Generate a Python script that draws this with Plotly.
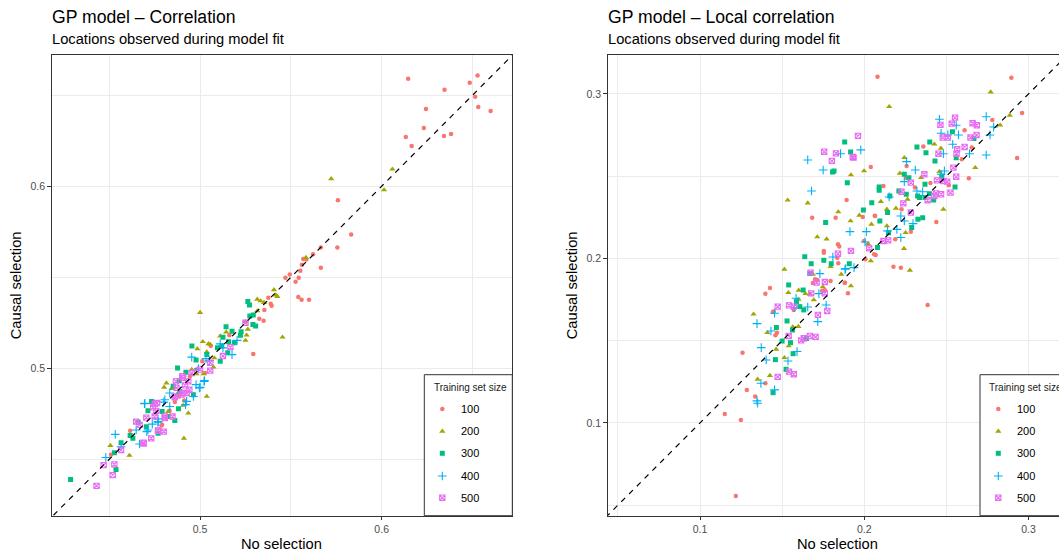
import plotly.graph_objects as go

W, H = 1059, 555

# Training set sizes and their ggplot-style hue colours / shapes
sizes = ["100", "200", "300", "400", "500"]
colors = ["#F8766D", "#A3A500", "#00BF7D", "#00B0F6", "#E76BF3"]
symbols = ["circle", "triangle-up", "square", "cross-thin-open", "square-x-open"]
msizes = [4.5, 5.5, 5, 6.2, 5.3]

# Correlation: (no selection, causal selection)
corr_100 = [
    (0.6146, 0.6591), (0.6485, 0.6569), (0.6528, 0.6608), (0.6346, 0.6530), (0.6515, 0.6492),
    (0.6532, 0.6436), (0.6600, 0.6414), (0.6244, 0.6425), (0.6232, 0.6320), (0.6343, 0.6276),
    (0.6382, 0.6287), (0.6133, 0.6271), (0.6165, 0.6221), (0.5759, 0.5923), (0.5832, 0.5735),
    (0.5756, 0.5663), (0.5665, 0.5663), (0.5665, 0.5552), (0.5622, 0.5626), (0.5585, 0.5597),
    (0.5568, 0.5600), (0.5561, 0.5569), (0.5552, 0.5536), (0.5543, 0.5497), (0.5526, 0.5475),
    (0.5494, 0.5515), (0.5470, 0.5497), (0.5541, 0.5392), (0.5559, 0.5377), (0.5600, 0.5377),
    (0.5376, 0.5387), (0.5389, 0.5354), (0.5394, 0.5343), (0.5354, 0.5320), (0.5326, 0.5272),
    (0.5350, 0.5261), (0.5161, 0.5182), (0.5293, 0.5079), (0.5059, 0.5122), (0.5013, 0.5039),
    (0.4861, 0.4814), (0.4913, 0.4823), (0.4832, 0.4766), (0.4791, 0.4689), (0.4615, 0.4657),
    (0.4509, 0.4525), (0.5028, 0.4974), (0.4885, 0.4845), (0.4944, 0.4956), (0.4981, 0.4993),
    (0.4787, 0.4685),
]
corr_200 = [
    (0.6059, 0.6094), (0.5722, 0.6041), (0.6013, 0.5980), (0.5583, 0.5608), (0.5407, 0.5431),
    (0.5417, 0.5402), (0.5426, 0.5394), (0.5315, 0.5379), (0.5333, 0.5370), (0.5352, 0.5361),
    (0.5315, 0.5315), (0.5454, 0.5171), (0.5250, 0.5256), (0.5263, 0.5214), (0.5250, 0.5153),
    (0.5144, 0.5199), (0.5000, 0.5306), (0.5111, 0.5177), (0.5015, 0.5146), (0.4985, 0.5107),
    (0.5056, 0.5131), (0.5046, 0.5134), (0.5037, 0.5090), (0.5078, 0.5057), (0.5074, 0.5006),
    (0.5019, 0.4969), (0.4954, 0.4993), (0.4954, 0.4965), (0.5037, 0.4845), (0.4815, 0.4919),
    (0.4802, 0.4895), (0.4874, 0.4858), (0.4824, 0.4762), (0.4907, 0.4796), (0.4843, 0.4888),
    (0.4506, 0.4575), (0.4611, 0.4521), (0.4911, 0.4615), (0.4935, 0.4753), (0.4981, 0.4969),
    (0.5256, 0.5182),
]
corr_300 = [
    (0.5263, 0.5367), (0.5272, 0.5348), (0.5274, 0.5287), (0.5293, 0.5293), (0.5143, 0.5228),
    (0.5176, 0.5204), (0.5226, 0.5201), (0.5291, 0.5241), (0.5306, 0.5232), (0.5222, 0.5182),
    (0.5189, 0.5140), (0.5126, 0.5171), (0.4955, 0.5122), (0.5157, 0.5146), (0.5120, 0.5122),
    (0.5096, 0.5112), (0.5152, 0.5085), (0.5111, 0.5039), (0.5037, 0.5076), (0.4978, 0.5046),
    (0.4876, 0.5002), (0.4922, 0.4978), (0.4885, 0.4932), (0.4852, 0.4901), (0.4963, 0.4855),
    (0.4889, 0.4873), (0.4733, 0.4818), (0.4713, 0.4766), (0.4791, 0.4763), (0.4824, 0.4735),
    (0.4861, 0.4713), (0.4704, 0.4678), (0.4769, 0.4643), (0.4659, 0.4703), (0.4615, 0.4630),
    (0.4565, 0.4591), (0.4537, 0.4444), (0.4287, 0.4389), (0.4528, 0.4536), (0.4630, 0.4615),
    (0.4881, 0.4777),
]
corr_400 = [
    (0.4533, 0.4637), (0.4481, 0.4510), (0.4565, 0.4569), (0.4667, 0.4584), (0.4648, 0.4661),
    (0.4713, 0.4661), (0.4694, 0.4805), (0.4768, 0.4703), (0.4806, 0.4827), (0.4833, 0.4864),
    (0.4920, 0.4800), (0.4963, 0.4845), (0.4996, 0.4892), (0.5024, 0.4932), (0.4991, 0.4998),
    (0.4954, 0.5061), (0.5033, 0.5053), (0.5111, 0.5134), (0.5176, 0.5075), (0.5204, 0.5153),
    (0.5126, 0.5112), (0.5052, 0.5042), (0.4833, 0.4790), (0.4737, 0.4693), (0.4768, 0.4722),
    (0.4696, 0.4807), (0.4769, 0.4707), (0.4707, 0.4652), (0.5000, 0.4895), (0.5022, 0.4928),
    (0.4926, 0.4818), (0.4800, 0.4814), (0.4978, 0.4910),
]
corr_500 = [
    (0.4430, 0.4354), (0.4519, 0.4413), (0.4528, 0.4472), (0.4469, 0.4468), (0.4565, 0.4551),
    (0.4648, 0.4707), (0.4689, 0.4591), (0.4731, 0.4615), (0.4768, 0.4658), (0.4800, 0.4652),
    (0.4704, 0.4729), (0.4750, 0.4735), (0.4805, 0.4735), (0.4848, 0.4735), (0.4759, 0.4766),
    (0.4667, 0.4689), (0.4861, 0.4840), (0.4898, 0.4855), (0.4926, 0.4864), (0.4870, 0.4892),
    (0.4907, 0.4947), (0.4954, 0.4974), (0.5000, 0.4993), (0.5056, 0.4987), (0.5126, 0.5067),
    (0.5167, 0.5116), (0.4750, 0.4805), (0.4917, 0.4906), (0.4935, 0.4928), (0.5250, 0.5250),
    (0.4902, 0.4956), (0.4867, 0.4928), (0.4861, 0.4845), (0.4907, 0.4864), (0.4941, 0.4882),
    (0.4763, 0.4809), (0.4741, 0.4785), (0.4806, 0.4726), (0.4769, 0.4656), (0.4689, 0.4587),
    (0.5056, 0.5030),
]

# Local correlation: (no selection, causal selection)
local_100 = [
    (0.1218, 0.0556), (0.1151, 0.1055), (0.1249, 0.1018), (0.1259, 0.1426), (0.1285, 0.1201),
    (0.1336, 0.1160), (0.1398, 0.1241), (0.1398, 0.1786), (0.1426, 0.1821), (0.1444, 0.1675),
    (0.1469, 0.1549), (0.1459, 0.1533), (0.1571, 0.1687), (0.1687, 0.1851), (0.1714, 0.1869),
    (0.1754, 0.2035), (0.1760, 0.1806), (0.1836, 0.2005), (0.1842, 0.1971), (0.1881, 0.1853),
    (0.1901, 0.1788), (0.2060, 0.2025), (0.2178, 0.1950), (0.2223, 0.1944), (0.1744, 0.1802),
    (0.1683, 0.2248), (0.1826, 0.2248), (0.1893, 0.2356), (0.1840, 0.2086), (0.1848, 0.2072),
    (0.1449, 0.1677), (0.1701, 0.1873), (0.1795, 0.1863), (0.1883, 0.1853), (0.2007, 0.1995),
    (0.2040, 0.2556), (0.2117, 0.2441), (0.2064, 0.2260), (0.1991, 0.2252), (0.2386, 0.1717),
    (0.2439, 0.2222), (0.2227, 0.2299), (0.2360, 0.2680), (0.2403, 0.2459), (0.2637, 0.2487),
    (0.2611, 0.2779), (0.2655, 0.2674), (0.2780, 0.2842), (0.2931, 0.2611), (0.2961, 0.2884),
    (0.2309, 0.2431), (0.2254, 0.2491), (0.2189, 0.2117), (0.2081, 0.3105), (0.2896, 0.3099),
    (0.2258, 0.2562), (0.2594, 0.2603), (0.2515, 0.2445), (0.2066, 0.2258), (0.2070, 0.2021),
    (0.2284, 0.2163), (0.1754, 0.2046), (0.1999, 0.2106),
]
local_200 = [
    (0.1514, 0.1934), (0.1538, 0.1792), (0.1599, 0.1752), (0.1693, 0.1748), (0.1642, 0.1786),
    (0.1326, 0.1661), (0.1410, 0.1549), (0.1565, 0.1584), (0.1599, 0.1586), (0.1464, 0.1448),
    (0.1540, 0.1468), (0.1514, 0.1397), (0.1426, 0.1288), (0.1351, 0.1265), (0.1687, 0.1904),
    (0.1795, 0.1950), (0.1860, 0.1904), (0.1919, 0.1833), (0.2040, 0.1985), (0.1748, 0.1827),
    (0.2278, 0.1928), (0.2770, 0.3012), (0.2152, 0.2923), (0.2886, 0.2870), (0.2244, 0.2613),
    (0.1534, 0.2354), (0.1656, 0.2337), (0.1714, 0.2131), (0.1771, 0.2118), (0.1842, 0.2283),
    (0.1917, 0.2228), (0.1970, 0.2262), (0.1999, 0.2532), (0.1919, 0.2508), (0.2217, 0.2518),
    (0.2346, 0.2491), (0.2458, 0.2528), (0.2676, 0.2552), (0.2482, 0.2299), (0.2193, 0.2305),
    (0.2138, 0.2299), (0.2101, 0.2346), (0.2044, 0.2208), (0.2138, 0.2198), (0.2252, 0.2157),
    (0.2242, 0.2060), (0.2023, 0.2090), (0.2264, 0.2360), (0.2427, 0.2695), (0.2467, 0.2670),
    (0.2828, 0.2810), (0.1601, 0.1806), (0.1669, 0.1782),
]
local_300 = [
    (0.1638, 0.2011), (0.1677, 0.1968), (0.1669, 0.1908), (0.1754, 0.1989), (0.1799, 0.1968),
    (0.1909, 0.1968), (0.1540, 0.1839), (0.1628, 0.1808), (0.1608, 0.1707), (0.1587, 0.1738),
    (0.1632, 0.1687), (0.1530, 0.1620), (0.1563, 0.1565), (0.1465, 0.1580), (0.1500, 0.1498),
    (0.1551, 0.1488), (0.1567, 0.1421), (0.1459, 0.1385), (0.1524, 0.1326), (0.1445, 0.1184),
    (0.1648, 0.1513), (0.1881, 0.2708), (0.1917, 0.2647), (0.1816, 0.2532), (0.1807, 0.2526),
    (0.1897, 0.2461), (0.2091, 0.2435), (0.2091, 0.2414), (0.1765, 0.2218), (0.1995, 0.2295),
    (0.2046, 0.2339), (0.2095, 0.2227), (0.2081, 0.2066), (0.2148, 0.2157), (0.2142, 0.2279),
    (0.2244, 0.2512), (0.2272, 0.2491), (0.2256, 0.2390), (0.2211, 0.2410), (0.2325, 0.2380),
    (0.2337, 0.2370), (0.2370, 0.2370), (0.2397, 0.2394), (0.2423, 0.2356), (0.2370, 0.2451),
    (0.2321, 0.2678), (0.2376, 0.2643), (0.2399, 0.2708), (0.2431, 0.2593), (0.2472, 0.2502),
    (0.2553, 0.2435), (0.2356, 0.2248), (0.2327, 0.2238), (0.2289, 0.2188), (0.2537, 0.2771),
    (0.2560, 0.2613), (0.2668, 0.2730), (0.2156, 0.2380),
]
local_400 = [
    (0.1347, 0.1134), (0.1351, 0.1120), (0.1371, 0.1241), (0.1403, 0.1383), (0.1373, 0.1458),
    (0.1432, 0.1559), (0.1347, 0.1604), (0.1454, 0.1667), (0.1454, 0.1201), (0.1536, 0.1377),
    (0.1591, 0.1434), (0.1585, 0.1758), (0.1575, 0.1701), (0.1656, 0.1705), (0.1717, 0.1616),
    (0.1768, 0.1717), (0.1724, 0.1786), (0.1730, 0.1908), (0.1809, 0.2009), (0.1883, 0.1934),
    (0.1938, 0.1944), (0.1656, 0.2599), (0.1750, 0.2538), (0.1679, 0.2410), (0.1856, 0.2637),
    (0.1979, 0.2660), (0.1913, 0.2163), (0.2013, 0.2163), (0.2005, 0.2100), (0.2152, 0.2374),
    (0.2258, 0.2589), (0.2311, 0.2538), (0.2244, 0.2467), (0.2321, 0.2410), (0.2356, 0.2406),
    (0.2223, 0.2258), (0.2244, 0.2228), (0.2297, 0.2212), (0.2199, 0.2177), (0.2223, 0.2127),
    (0.2142, 0.2168), (0.2458, 0.2846), (0.2468, 0.2761), (0.2509, 0.2751), (0.2560, 0.2810),
    (0.2539, 0.2694), (0.2482, 0.2637), (0.2574, 0.2751), (0.2743, 0.2862), (0.2788, 0.2799),
    (0.2766, 0.2751), (0.2743, 0.2629), (0.2641, 0.2637), (0.2488, 0.2532), (0.2468, 0.2512),
    (0.1887, 0.1938),
]
local_500 = [
    (0.1473, 0.1707), (0.1542, 0.1715), (0.1571, 0.1707), (0.1677, 0.1788), (0.1673, 0.1914),
    (0.1710, 0.1853), (0.1760, 0.1857), (0.1760, 0.1788), (0.1840, 0.2029), (0.1718, 0.1657),
    (0.1775, 0.1681), (0.1540, 0.1529), (0.1616, 0.1502), (0.1632, 0.1515), (0.1669, 0.1529),
    (0.1704, 0.1523), (0.1473, 0.1280), (0.1542, 0.1312), (0.1571, 0.1296), (0.1962, 0.2745),
    (0.1756, 0.2649), (0.1828, 0.2639), (0.1803, 0.2593), (0.1930, 0.2617), (0.2464, 0.2812),
    (0.2553, 0.2856), (0.2533, 0.2820), (0.2478, 0.2735), (0.2509, 0.2735), (0.2660, 0.2822),
    (0.2686, 0.2810), (0.2647, 0.2735), (0.2684, 0.2751), (0.2611, 0.2678), (0.2566, 0.2664),
    (0.2452, 0.2637), (0.2562, 0.2637), (0.2543, 0.2552), (0.2560, 0.2497), (0.2366, 0.2512),
    (0.2443, 0.2475), (0.2482, 0.2471), (0.2505, 0.2467), (0.2284, 0.2461), (0.2227, 0.2406),
    (0.2468, 0.2390), (0.2437, 0.2396), (0.2427, 0.2380), (0.2525, 0.2400), (0.2386, 0.2354),
    (0.2238, 0.2335), (0.2284, 0.2279), (0.2117, 0.2106), (0.2146, 0.2110), (0.2030, 0.2062),
    (0.1919, 0.2046), (0.1935, 0.2613),
]

corr_groups = [corr_100, corr_200, corr_300, corr_400, corr_500]
local_groups = [local_100, local_200, local_300, local_400, local_500]

FONT = "Liberation Sans, Arial, Helvetica, sans-serif"
INK = "#333333"
GRID = "#EBEBEB"


def px(x):
    return x / W


def py(y):
    return 1 - y / H


def marker_style(i):
    open_sym = symbols[i].endswith("open")
    return dict(
        symbol=symbols[i], size=msizes[i], color=colors[i],
        line=dict(color=colors[i], width=1.1 if open_sym else 0),
    )


fig = go.Figure()

for xa, ya, groups in (("x", "y", corr_groups), ("x2", "y2", local_groups)):
    for i, pts in enumerate(groups):
        fig.add_trace(go.Scatter(
            x=[p[0] for p in pts], y=[p[1] for p in pts], mode="markers",
            marker=marker_style(i), xaxis=xa, yaxis=ya, showlegend=False,
            name=sizes[i], hoverinfo="x+y+name",
        ))
    # identity reference line
    fig.add_trace(go.Scatter(
        x=[0, 1], y=[0, 1], mode="lines", xaxis=xa, yaxis=ya, showlegend=False,
        line=dict(color="black", width=1.2, dash="5.5px,5.5px"), hoverinfo="skip",
    ))

# legend keys drawn in a pixel-space overlay
key_rows = [409, 431.3, 453.3, 476, 497.7]
for lx in (442.3, 998.3):
    for i in range(5):
        fig.add_trace(go.Scatter(
            x=[lx], y=[key_rows[i]], mode="markers", marker=marker_style(i),
            xaxis="x3", yaxis="y3", showlegend=False, hoverinfo="skip",
        ))

axis_common = dict(
    showline=True, linecolor=INK, linewidth=1.1,
    showgrid=True, gridcolor=GRID, gridwidth=1.1,
    zeroline=False, ticks="outside", ticklen=3.5, tickwidth=1, tickcolor=INK,
    tickfont=dict(family=FONT, size=10.5, color="#4D4D4D"),
    dtick=0.1, tick0=0,
    minor=dict(dtick=0.05, tick0=0, showgrid=True, gridcolor=GRID, gridwidth=0.6, ticks=""),
    fixedrange=True,
)

y_dom = [py(515.7), py(55)]
fig.update_layout(
    width=W, height=H,
    margin=dict(l=0, r=0, t=0, b=0, pad=0),
    paper_bgcolor="white", plot_bgcolor="rgba(0,0,0,0)",
    showlegend=False,
    xaxis=dict(domain=[px(51.7), px(511.7)], range=[0.4183, 0.6716], anchor="y", mirror=True, **axis_common),
    yaxis=dict(domain=y_dom, range=[0.4190, 0.6721], anchor="x", mirror=True, **axis_common),
    xaxis2=dict(domain=[px(607.7), 1.0], range=[0.0438, 0.3186], anchor="y2", mirror=True, **axis_common),
    yaxis2=dict(domain=y_dom, range=[0.0436, 0.3237], anchor="x2", mirror=False, **axis_common),
    xaxis3=dict(domain=[0, 1], range=[0, W], anchor="y3", visible=False, fixedrange=True),
    yaxis3=dict(domain=[0, 1], range=[H, 0], anchor="x3", visible=False, fixedrange=True),
)

shapes = []
annotations = []


def text(x, y, s, size, color="black", xanchor="left", angle=0):
    annotations.append(dict(
        x=px(x), y=py(y), xref="paper", yref="paper", text=s, showarrow=False,
        xanchor=xanchor, yanchor="middle", textangle=angle,
        font=dict(family=FONT, size=size, color=color),
    ))


panels = [
    dict(left=51.7, centre=281.7, ytitle_x=16, title="GP model \u2013 Correlation", legend_x=424.3),
    dict(left=607.7, centre=837.5, ytitle_x=572, title="GP model \u2013 Local correlation", legend_x=980.0),
]
for p in panels:
    text(p["left"] - 2, 16.5, p["title"], 17.6)
    text(p["left"] - 2, 39.5, "Locations observed during model fit", 14.7)
    text(p["centre"], 544, "No selection", 14.7, xanchor="center")
    text(p["ytitle_x"], 285.3, "Causal selection", 14.7, xanchor="center", angle=-90)
    # legend box
    shapes.append(dict(
        type="rect", xref="x3", yref="y3", x0=p["legend_x"], x1=p["legend_x"] + 88,
        y0=374.7, y1=515.7, fillcolor="white", line=dict(color=INK, width=1), layer="below",
    ))
    text(p["legend_x"] + 7.4, 387.3, "Training set size", 10, color="#1A1A1A")
    for i, s in enumerate(sizes):
        text(p["legend_x"] + 34.7, key_rows[i], s, 11, color="black")

fig.update_layout(shapes=shapes, annotations=annotations)

fig.write_html("out.html", include_plotlyjs=True, config={"displayModeBar": False})
